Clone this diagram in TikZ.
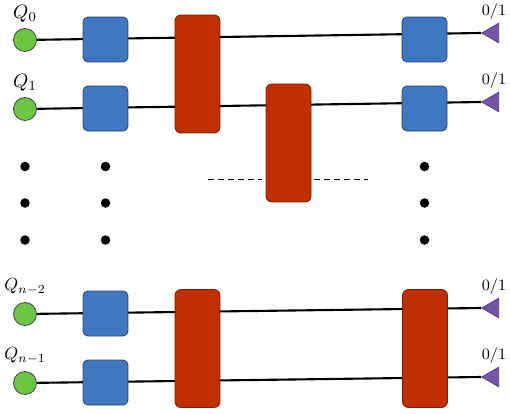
\documentclass[tikz,border=0pt]{standalone}
\usetikzlibrary{shapes.geometric,backgrounds}
\definecolor{qgreen}{HTML}{6CC644}
\definecolor{qblue}{HTML}{3F78C1}
\definecolor{qred}{HTML}{BF2F00}
\definecolor{qpurple}{HTML}{7356A5}
\tikzset{
    qubit/.style={circle,draw=black!70,fill=qgreen,line width=0.5pt,minimum size=0.46cm,inner sep=0},
    single/.style={rectangle,rounded corners=0.1cm,draw=qblue!60!black,fill=qblue,line width=0.5pt,minimum size=0.9cm,inner sep=0},
    entangle/.style={rectangle,rounded corners=0.12cm,draw=qred!65!black,fill=qred,line width=0.5pt,minimum width=0.9cm,minimum height=2.36cm,inner sep=0},
    measure/.style={isosceles triangle,isosceles triangle apex angle=60,shape border rotate=180,draw=qpurple!70!black,fill=qpurple,line width=0.4pt,minimum height=0.34cm,inner sep=0,anchor=apex},
    wire/.style={line width=1.2pt},
    vdot/.style={circle,fill=black,minimum size=0.19cm,inner sep=0},
    gap/.style={line width=1.1pt,dash pattern=on 3.4pt off 2.3pt},
    qlabel/.style={scale=1.1}
}
\begin{document}
\begin{tikzpicture}[x=0.02cm,y=-0.02cm]
    \useasboundingbox (0,0) rectangle (510,413);
    % Qubits, gates and outputs, one row each
    \foreach \row/\yl/\yr in {a/40/33, b/109/102, c/314/308, d/383/377} {
        \node[qubit] (q\row) at (25,\yl) {};
        \node[measure] (m\row) at (481,\yr) {};
        \node[single] (s\row) at (105.5,\yl-0.5) {};
        \begin{scope}[on background layer]
            \draw[wire] (q\row) -- (m\row.apex);
        \end{scope}
    }
    % Last layer of single gates
    \node[single] (ta) at (424.5,39.5) {};
    \node[single] (tb) at (424.5,108.5) {};
    % Two-row gates
    \node[entangle] (eab) at (197.5,74) {};
    \node[entangle] (ebx) at (288.5,143) {};
    \node[entangle] (ecd) at (197.5,348.5) {};
    \node[entangle] (fcd) at (425,348.5) {};
    % Labels
    \node[qlabel] (la) at (25,14) {$Q_0$};
    \node[qlabel] (lb) at (25,83) {$Q_1$};
    \node (lc) at (25,287) {$Q_{n-2}$};
    \node (ld) at (25,356) {$Q_{n-1}$};
    \foreach \row/\y in {a/12, b/81, c/287, d/356} {
        \node[font=\small] (o\row) at (494,\y) {0/1};
    }
    % Vertical dots
    \foreach \x in {25,105.5,424.5} {
        \foreach \y in {166.5,203,240} {
            \node[vdot] at (\x,\y) {};
        }
    }
    % Dashed wire behind the middle gate
    \coordinate (dl0) at (208,179.5);
    \coordinate (dl1) at (262,179.5);
    \coordinate (dr0) at (314,179.5);
    \coordinate (dr1) at (368,179.5);
    \draw[gap] (dl0) -- (dl1);
    \draw[gap] (dr0) -- (dr1);
\end{tikzpicture}
\end{document}
